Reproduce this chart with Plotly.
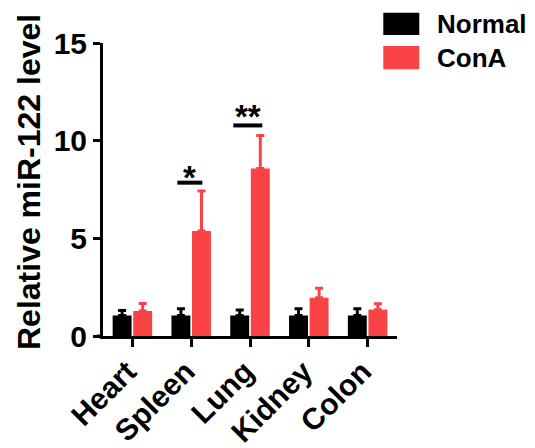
import plotly.graph_objects as go

# ---- data ----
categories = ["Heart", "Spleen", "Lung", "Kidney", "Colon"]
series_names = ["Normal", "ConA"]
normal_mean = [1.05, 1.05, 1.05, 1.05, 1.05]
normal_err = [0.25, 0.35, 0.28, 0.35, 0.35]
cona_mean = [1.28, 5.37, 8.57, 1.96, 1.35]
cona_err = [0.38, 2.05, 1.70, 0.48, 0.30]
y_ticks = [0, 5, 10, 15]
y_title = "Relative miR-122 level"
sig_labels = ["*", "**"]          # Spleen, Lung
sig_levels = [7.85, 10.78]

# ---- styling / layout constants ----
W, H = 535, 448
L, R, T, B = 103, 138, 43, 112
PW, PH = W - L - R, H - T - B
BLACK = "#000000"
RED = "#F94345"
FONT = "Liberation Sans, Arial, sans-serif"

def px_x(px):
    return (px - L) / PW

def px_y(py):
    return (H - B - py) / PH

fig = go.Figure()
fig.add_trace(go.Bar(
    x=categories, y=normal_mean, name=series_names[0],
    marker=dict(color=BLACK, line=dict(width=0)),
    error_y=dict(type="data", symmetric=False, array=normal_err,
                 arrayminus=[0] * len(normal_err), color=BLACK,
                 thickness=3, width=4),
))
fig.add_trace(go.Bar(
    x=categories, y=cona_mean, name=series_names[1],
    marker=dict(color=RED, line=dict(width=0)),
    error_y=dict(type="data", symmetric=False, array=cona_err,
                 arrayminus=[0] * len(cona_err), color=RED,
                 thickness=3, width=4),
))

shapes = []
annotations = []
# significance bars
sig_x = [(0.764, 1.189), (1.716, 2.209)]
sig_shift = [-15, -12]
for (x0, x1), lvl, lab, ys in zip(sig_x, sig_levels, sig_labels, sig_shift):
    shapes.append(dict(type="line", xref="x", yref="y", x0=x0, x1=x1,
                       y0=lvl, y1=lvl, line=dict(color=BLACK, width=4)))
    annotations.append(dict(xref="x", yref="y", x=(x0 + x1) / 2, y=lvl,
                            text=lab, showarrow=False, yanchor="bottom",
                            yshift=ys,
                            font=dict(family=FONT, size=33, color=BLACK,
                                      weight="bold")))

# x axis extension to the left of the y axis
shapes.append(dict(type="line", xref="paper", yref="y", x0=px_x(97), x1=0,
                   y0=0, y1=0, line=dict(color=BLACK, width=3)))

# y axis title
annotations.append(dict(xref="paper", yref="paper", x=px_x(28.5),
                        y=px_y(182.5), text=y_title, textangle=-90,
                        showarrow=False, xanchor="center", yanchor="middle",
                        font=dict(family=FONT, size=32, color=BLACK,
                                  weight="bold")))

# manual legend
leg_rows = [(12.7, 35.0, 24.0, BLACK), (46.0, 69.3, 57.7, RED)]
for name, (ya, yb, yc, col) in zip(series_names, leg_rows):
    shapes.append(dict(type="rect", xref="paper", yref="paper",
                       x0=px_x(383.3), x1=px_x(419.3),
                       y0=px_y(yb), y1=px_y(ya),
                       fillcolor=col, line=dict(width=0)))
    annotations.append(dict(xref="paper", yref="paper", x=px_x(435),
                            y=px_y(yc), text=name, showarrow=False,
                            xanchor="left", yanchor="middle",
                            font=dict(family=FONT, size=26, color=BLACK,
                                      weight="bold")))

fig.update_layout(
    width=W, height=H,
    margin=dict(l=L, r=R, t=T, b=B, autoexpand=False),
    paper_bgcolor="white", plot_bgcolor="white",
    barmode="group", bargap=0.30, bargroupgap=0.08,
    showlegend=False,
    shapes=shapes, annotations=annotations,
    font=dict(family=FONT, color=BLACK),
    xaxis=dict(
        showline=True, linecolor=BLACK, linewidth=3,
        ticks="outside", ticklen=8, tickwidth=3, tickcolor=BLACK,
        tickangle=-45, showgrid=False, zeroline=False,
        ticklabelstandoff=-5, ticklabelshift=-5,
        tickfont=dict(family=FONT, size=30, color=BLACK, weight="bold"),
        range=[-0.5, 4.5],
    ),
    yaxis=dict(
        range=[0, 15], tickvals=y_ticks,
        showline=True, linecolor=BLACK, linewidth=3,
        ticks="outside", ticklen=7, tickwidth=3, tickcolor=BLACK,
        showgrid=False, zeroline=False,
        tickfont=dict(family=FONT, size=30, color=BLACK, weight="bold"),
    ),
)

fig.write_html(
    "out.html",
    config={"displayModeBar": False},
    post_script="document.body.style.margin='0';"
                "document.body.style.overflow='hidden';",
)
